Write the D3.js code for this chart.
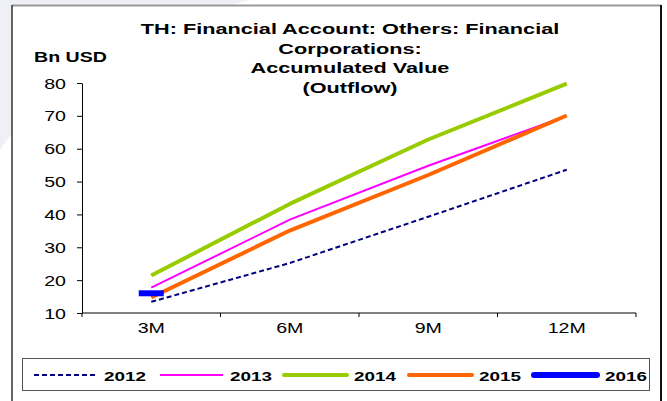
<!DOCTYPE html>
<html>
<head>
<meta charset="utf-8">
<script src="https://cdn.jsdelivr.net/npm/d3@7"></script>
<style>
  html, body { margin: 0; padding: 0; background: #fff; }
  svg { display: block; font-family: "Liberation Sans", Arial, sans-serif; }
</style>
</head>
<body>
<svg id="chart" width="667" height="401"></svg>
<script>
// Quarterly accumulated outflow, billions of USD
const categories = ["3M", "6M", "9M", "12M"];
const years = ["2012", "2013", "2014", "2015", "2016"];
const values2012 = [13.4, 25.2, 39.3, 53.6];
const values2013 = [17.7, 38.4, 54.8, 70.0];
const values2014 = [21.4, 43.2, 62.8, 79.8];
const values2015 = [14.7, 35.1, 52.0, 70.1];
const values2016 = [16.0];
const yTicks = [10, 20, 30, 40, 50, 60, 70, 80];
const titleLines = ["TH: Financial Account: Others: Financial", "Corporations:", "Accumulated Value", "(Outflow)"];

const seriesList = [
  { name: "2012", values: values2012, color: "#000080", width: 2, dash: "5,3" },
  { name: "2013", values: values2013, color: "#ff00ff", width: 2, dash: null },
  { name: "2014", values: values2014, color: "#99cc00", width: 4, dash: null },
  { name: "2015", values: values2015, color: "#ff6600", width: 4, dash: null },
  { name: "2016", values: values2016, color: "#0000ff", width: 6, dash: null }
];

// text in this chart is drawn horizontally widened
const STRETCH = 1.4;
function wideText(parent, x, y, str, opts) {
  const t = parent.append("text")
    .attr("transform", `translate(${x},${y}) scale(${STRETCH},1)`)
    .attr("text-anchor", opts.anchor || "start")
    .attr("font-size", opts.size + "px")
    .attr("font-weight", opts.bold ? "bold" : "normal")
    .attr("fill", "#000")
    .text(str);
  return t;
}

const svg = d3.select("#chart");

// faint background swoosh
svg.append("path")
  .attr("d", "M0,150 C40,90 120,30 250,0 L0,0 Z")
  .attr("fill", "#eef0f6");

// outer chart frame
svg.append("rect")
  .attr("x", 12).attr("y", 5.5).attr("width", 649).attr("height", 420)
  .attr("fill", "#fff").attr("stroke", "none");
svg.append("line").attr("x1", 12).attr("x2", 661).attr("y1", 5.5).attr("y2", 5.5)
  .attr("stroke", "#999").attr("stroke-width", 2);
svg.append("line").attr("x1", 12).attr("x2", 12).attr("y1", 5).attr("y2", 401)
  .attr("stroke", "#333").attr("stroke-width", 1.5);
svg.append("line").attr("x1", 661).attr("x2", 661).attr("y1", 5).attr("y2", 401)
  .attr("stroke", "#111").attr("stroke-width", 2);

const plot = { left: 82, right: 636, top: 83, bottom: 313 };

const x = d3.scaleBand().domain(categories).range([plot.left, plot.right]);
const y = d3.scaleLinear().domain([10, 80]).range([plot.bottom, plot.top]);

// title
titleLines.forEach((t, i) => {
  wideText(svg, 350, 34 + i * 19.7, t, { size: 15.5, bold: true, anchor: "middle" });
});

wideText(svg, 34, 62, "Bn USD", { size: 14, bold: true });

// y axis
const yAxis = svg.append("g")
  .attr("transform", `translate(${plot.left},0)`)
  .call(d3.axisLeft(y).tickValues(yTicks).tickSize(5).tickSizeOuter(0).tickFormat(""));
yAxis.selectAll("line, path").attr("stroke", "#000");
yAxis.selectAll(".tick").each(function (d) {
  wideText(d3.select(this), -16, 5, String(d), { size: 14, anchor: "end" });
});

// x axis with ticks between categories
const xAxis = svg.append("g")
  .attr("transform", `translate(0,${plot.bottom})`);
xAxis.append("line")
  .attr("x1", plot.left).attr("x2", plot.right)
  .attr("stroke", "#000");
const boundaries = categories.map(c => x(c)).concat([plot.right]);
xAxis.selectAll("line.tick").data(boundaries).join("line")
  .attr("class", "tick")
  .attr("x1", d => d).attr("x2", d => d)
  .attr("y1", 0).attr("y2", 4)
  .attr("stroke", "#000");
categories.forEach(c => {
  wideText(xAxis, x(c) + x.bandwidth() / 2, 20, c, { size: 14, anchor: "middle" });
});

// series lines
const line = d3.line()
  .x((d, i) => x(categories[i]) + x.bandwidth() / 2)
  .y(d => y(d));

seriesList.forEach(s => {
  if (s.values.length > 1) {
    svg.append("path")
      .datum(s.values)
      .attr("d", line)
      .attr("fill", "none")
      .attr("stroke", s.color)
      .attr("stroke-width", s.width)
      .attr("stroke-dasharray", s.dash)
      .attr("stroke-linejoin", "round");
  } else {
    // single observation shown as a short dash marker
    const cx = x(categories[0]) + x.bandwidth() / 2;
    svg.append("line")
      .attr("x1", cx - 12.5).attr("x2", cx + 12.5)
      .attr("y1", y(s.values[0])).attr("y2", y(s.values[0]))
      .attr("stroke", s.color).attr("stroke-width", s.width);
  }
});

// legend
svg.append("rect")
  .attr("x", 22.5).attr("y", 358.5).attr("width", 627).attr("height", 32)
  .attr("fill", "#fff").attr("stroke", "#555").attr("stroke-width", 1);

const legendX = [34, 160, 284, 409, 534];
const lg = svg.append("g");
seriesList.forEach((s, i) => {
  const x0 = legendX[i];
  lg.append("line")
    .attr("x1", x0).attr("x2", x0 + (i === 0 ? 62 : 63))
    .attr("y1", 375).attr("y2", 375)
    .attr("stroke", s.color)
    .attr("stroke-width", i === 4 ? 6 : s.width)
    .attr("stroke-linecap", i >= 2 ? "round" : "butt")
    .attr("stroke-dasharray", s.dash);
  wideText(lg, x0 + (i === 4 ? 71 : 70), 380.5, years[i], { size: 13.5, bold: true });
});
</script>
</body>
</html>
